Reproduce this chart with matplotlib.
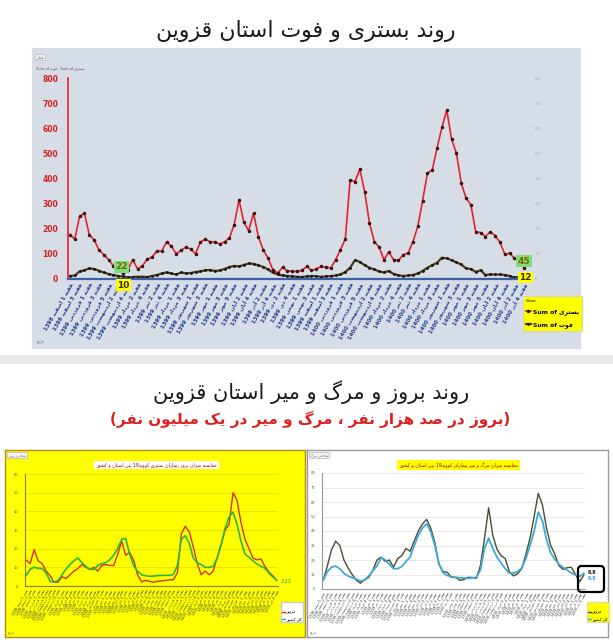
import matplotlib
matplotlib.use('Agg')
import matplotlib.pyplot as plt
from matplotlib.lines import Line2D
from matplotlib.patches import Rectangle, FancyBboxPatch

W, H = 613, 640

# matplotlib has no Arabic shaping / right-to-left layout, so do a small one here
FORMS = {
    'ا': (0xFE8D, 0xFE8E), 'آ': (0xFE81, 0xFE82), 'د': (0xFEA9, 0xFEAA),
    'ذ': (0xFEAB, 0xFEAC), 'ر': (0xFEAD, 0xFEAE), 'ز': (0xFEAF, 0xFEB0),
    'ژ': (0xFB8A, 0xFB8B), 'و': (0xFEED, 0xFEEE),
    'ب': (0xFE8F, 0xFE90, 0xFE91, 0xFE92), 'پ': (0xFB56, 0xFB57, 0xFB58, 0xFB59),
    'ت': (0xFE95, 0xFE96, 0xFE97, 0xFE98), 'ج': (0xFE9D, 0xFE9E, 0xFE9F, 0xFEA0),
    'چ': (0xFB7A, 0xFB7B, 0xFB7C, 0xFB7D), 'ح': (0xFEA1, 0xFEA2, 0xFEA3, 0xFEA4),
    'خ': (0xFEA5, 0xFEA6, 0xFEA7, 0xFEA8), 'س': (0xFEB1, 0xFEB2, 0xFEB3, 0xFEB4),
    'ش': (0xFEB5, 0xFEB6, 0xFEB7, 0xFEB8), 'ص': (0xFEB9, 0xFEBA, 0xFEBB, 0xFEBC),
    'ع': (0xFEC9, 0xFECA, 0xFECB, 0xFECC), 'ف': (0xFED1, 0xFED2, 0xFED3, 0xFED4),
    'ق': (0xFED5, 0xFED6, 0xFED7, 0xFED8), 'ک': (0xFB8E, 0xFB8F, 0xFB90, 0xFB91),
    'ك': (0xFED9, 0xFEDA, 0xFEDB, 0xFEDC), 'گ': (0xFB92, 0xFB93, 0xFB94, 0xFB95),
    'ل': (0xFEDD, 0xFEDE, 0xFEDF, 0xFEE0), 'م': (0xFEE1, 0xFEE2, 0xFEE3, 0xFEE4),
    'ن': (0xFEE5, 0xFEE6, 0xFEE7, 0xFEE8), 'ه': (0xFEE9, 0xFEEA, 0xFEEB, 0xFEEC),
    'ی': (0xFBFC, 0xFBFD, 0xFBFE, 0xFBFF), 'ي': (0xFEF1, 0xFEF2, 0xFEF3, 0xFEF4),
}
MIRROR = str.maketrans('()', ')(')


def fa(s):
    out = []
    for i, ch in enumerate(s):
        f = FORMS.get(ch)
        if f is None:
            out.append(ch)
            continue
        prv = FORMS.get(s[i - 1]) if i > 0 else None
        nxt = FORMS.get(s[i + 1]) if i + 1 < len(s) else None
        jp = prv is not None and len(prv) == 4
        jn = len(f) == 4 and nxt is not None
        if jp and jn:
            out.append(chr(f[3]))
        elif jp:
            out.append(chr(f[1]))
        elif jn:
            out.append(chr(f[2]))
        else:
            out.append(chr(f[0]))
    shaped = ''.join(out)
    runs = []
    for ch in shaped:
        ltr = ch.isascii() and (ch.isalnum() or ch == '.')
        if runs and runs[-1][0] == ltr:
            runs[-1][1] += ch
        else:
            runs.append([ltr, ch])
    return ''.join(r if ltr else r[::-1].translate(MIRROR) for ltr, r in reversed(runs))


def px(x0, y0, x1, y1):
    return [x0 / W, 1 - y1 / H, (x1 - x0) / W, (y1 - y0) / H]


# ---------------- data ----------------
# weekly hospitalised (بستری) and deaths (فوت), Qazvin
hosp = [176, 159, 249, 262, 176, 156, 116, 97, 77, 53,
        37, 22, 37, 77, 40, 53, 79, 87, 112, 110,
        148, 130, 100, 114, 127, 119, 100, 147, 159, 148,
        147, 139, 148, 163, 216, 315, 225, 192, 262, 169,
        116, 83, 37, 24, 46, 33, 30, 30, 34, 50,
        34, 40, 50, 46, 44, 77, 116, 160, 394, 388,
        437, 348, 222, 149, 127, 77, 107, 77, 74, 97,
        103, 149, 209, 312, 421, 434, 522, 603, 672, 556,
        500, 381, 321, 295, 187, 185, 169, 188, 173, 146,
        99, 102, 83, 67, 45]
death = [12, 14, 30, 35, 42, 40, 33, 26, 20, 16,
         12, 10, 6, 8, 9, 9, 8, 12, 16, 22,
         26, 22, 18, 26, 22, 24, 28, 30, 35, 36,
         32, 34, 40, 48, 52, 50, 56, 62, 60, 55,
         48, 38, 26, 18, 14, 12, 10, 9, 8, 10,
         12, 11, 9, 10, 12, 14, 18, 28, 45, 75,
         68, 55, 45, 38, 30, 26, 32, 20, 15, 12,
         14, 16, 22, 32, 45, 55, 65, 85, 82, 75,
         66, 58, 42, 40, 28, 35, 16, 18, 18, 18,
         16, 12, 6, 8, 12]

MONTHS = ['فروردین', 'اردیبهشت', 'خرداد', 'تیر', 'مرداد', 'شهریور',
          'مهر', 'آبان', 'آذر', 'دی', 'بهمن', 'اسفند']
weeks_1399 = [5, 4, 4, 5, 4, 4, 5, 4, 4, 5, 4, 4]
weeks_1400 = [5, 4, 4, 5, 4, 4, 5, 4, 4]
month_weeks = ([('اسفند', 1398, 4)]
               + [(m, 1399, n) for m, n in zip(MONTHS, weeks_1399)]
               + [(m, 1400, n) for m, n in zip(MONTHS, weeks_1400)])
wk_labels = ['هفته %d %s %d' % (w, m, y) for m, y, n in month_weeks for w in range(1, n + 1)]

# incidence per 100k: Qazvin vs country
inc_qazvin = [13.8, 12, 19.5, 13.5, 12, 8, 5.5, 2, 2, 5,
              4, 6, 8, 9.3, 11.5, 10, 8.8, 10, 8, 11,
              11.5, 11, 11, 17, 24, 16.5, 18, 14, 6, 2.2,
              3, 2.5, 2, 2.5, 2.7, 3, 3.3, 3.4, 7, 28,
              32, 29, 21, 12, 6, 8, 6, 8, 15, 22,
              30, 33, 50, 46, 34, 25, 20, 15, 14, 14.5,
              10.5, 7.5, 5.5, 3]
inc_iran = [5.7, 9, 10, 9.5, 9.3, 7, 2.5, 2, 3, 6,
            9, 11.5, 13.5, 15, 12.5, 10.5, 9, 8.8, 11, 12,
            12.5, 14, 16.5, 20, 25, 25.5, 17, 11, 7.8, 6,
            5.5, 5.2, 5.3, 5.6, 5.7, 5.7, 5.7, 6.2, 11, 25,
            27, 22.8, 15, 12.5, 11.5, 10, 10, 10.5, 15, 22,
            31, 37, 39.5, 33, 24, 17, 15.5, 13.5, 11.8, 10.6,
            9.5, 7, 4.8, 3]
# deaths per million: Qazvin vs country
mort_qazvin = [6, 16, 27, 33, 30, 20, 14.5, 10, 6, 4,
               6.5, 8, 13, 20, 22, 19, 20, 15, 21, 23,
               28, 26, 33, 40, 44.8, 48, 42, 32, 17, 12,
               11.5, 8, 8, 6, 6.5, 8, 8, 7.3, 16, 35,
               56, 37, 27.5, 23, 21, 12, 9, 10.5, 14, 24,
               35, 50, 66, 58, 42, 30, 24, 16, 13.5, 14.7,
               15, 10, 5, 9.6]
mort_iran = [6, 12, 15, 15.8, 14, 10.8, 9, 7.8, 6.8, 5.5,
             6, 9, 12.5, 16, 21.5, 20, 17, 14, 14, 15.5,
             19, 22, 30, 37, 42, 45, 39.5, 30, 17, 11,
             9.3, 8.5, 8, 7.8, 7.6, 7.3, 7.6, 8, 13, 28,
             35, 28, 22, 18, 14, 11, 11, 12, 14.5, 21,
             30, 40, 53, 47, 34, 25, 20.5, 17, 15, 13,
             11, 9.8, 8.8, 10.8]
bottom_labels = [wk_labels[round(k * 94 / 63)] for k in range(len(inc_qazvin))]

fig = plt.figure(figsize=(W / 100, H / 100), dpi=100)
fig.patch.set_facecolor('white')

# ---------------- backgrounds ----------------
def panel(rect, fc, ec, lw=0.8):
    a = fig.add_axes(px(*rect))
    a.set_facecolor(fc)
    a.set_xticks([])
    a.set_yticks([])
    for s in a.spines.values():
        s.set_color(ec)
        s.set_linewidth(lw)
    return a

panel((32, 48, 580, 348), '#d7dde6', '#d7dde6')
fig.add_artist(Rectangle((0, 1 - 364 / H), 1, 9 / H, transform=fig.transFigure,
                         fc='#e9e9e9', ec='none'))
panel((5, 450, 305, 637), '#ffff00', '#b58a16', 1.0)
panel((307, 450, 608, 637), 'white', '#9a9a9a', 1.0)

# ---------------- titles ----------------
fig.text(306 / W, 1 - 31 / H, fa('روند بستری و فوت استان قزوین'), ha='center', va='center',
         fontsize=15.8, color='#1a1a1a')
fig.text(311 / W, 1 - 392 / H, fa('روند بروز و مرگ و میر استان قزوین'), ha='center', va='center',
         fontsize=15, color='#1a1a1a')
fig.text(310 / W, 1 - 419 / H, fa('(بروز در صد هزار نفر ، مرگ و میر در یک میلیون نفر)'),
         ha='center', va='center', fontsize=11, color='#de1f1f', fontweight='bold')

# ---------------- top chart ----------------
ax = fig.add_axes(px(68, 78, 526, 279))
ax.set_facecolor('none')
x = list(range(len(hosp)))
ax.plot(x, hosp, color='#e3222b', lw=1.2, marker='o', ms=1.5, mfc='#3a1010', mec='#3a1010', zorder=3)
ax.plot(x, death, color='#4a3c12', lw=1.6, marker='o', ms=1.0, mfc='#111111', mec='#111111', zorder=2)
ax.set_xlim(-0.4, len(hosp) - 0.6)
ax.set_ylim(0, 800)
ax.set_yticks(range(0, 801, 100))
ax.tick_params(axis='y', length=0, labelsize=5.5, labelcolor='#d42020', pad=7)
for t in ax.get_yticklabels():
    t.set_fontweight('bold')
ax.set_xticks(x[::2])
ax.set_xticklabels([fa(l) for l in wk_labels[::2]], rotation=60, ha='right',
                   rotation_mode='anchor', fontsize=3.9, color='#22408e', fontweight='bold')
ax.tick_params(axis='x', length=0, pad=2)
for s in ('top', 'right'):
    ax.spines[s].set_visible(False)
ax.spines['left'].set_color('#e3222b')
ax.spines['left'].set_linewidth(1.2)
ax.spines['bottom'].set_color('#3d5fa6')
ax.spines['bottom'].set_linewidth(1.6)

ax2 = ax.twinx()
ax2.set_ylim(0, 800)
ax2.set_yticks(range(0, 801, 100))
ax2.tick_params(axis='y', length=0, labelsize=2.5, labelcolor='#a4abb5', pad=6)
for s in ax2.spines.values():
    s.set_visible(False)

box = dict(boxstyle='square,pad=0.15', ec='none')
ax.annotate('22', (11, hosp[11]), xytext=(-1, 1.5), textcoords='offset points', ha='center', va='bottom',
            fontsize=6.5, fontweight='bold', color='#7a6000', bbox=dict(box, fc='#78e078'), zorder=5)
ax.annotate('10', (11, death[11]), xytext=(0, -3), textcoords='offset points', ha='center', va='top',
            fontsize=6.5, fontweight='bold', color='#3a3000', bbox=dict(box, fc='#ffff00'), zorder=5)
ax.annotate('45', (94, hosp[-1]), xytext=(0, 1.5), textcoords='offset points', ha='center', va='bottom',
            fontsize=6.5, fontweight='bold', color='#8a5a00', bbox=dict(box, fc='#78e078'), zorder=5)
ax.annotate('12', (94, death[-1]), xytext=(1, -1), textcoords='offset points', ha='center', va='center',
            fontsize=6.5, fontweight='bold', color='#3a3000', bbox=dict(box, fc='#ffff00'), zorder=5)

handles = [Line2D([], [], color='#e3222b', lw=1.2, marker='o', ms=1.5, mfc='#3a1010', mec='#3a1010'),
           Line2D([], [], color='#4a3c12', lw=1.6, marker='o', ms=1.0, mfc='#111', mec='#111')]
leg = fig.legend(handles, ['Sum of ' + fa('بستری'), 'Sum of ' + fa('فوت')], loc='upper left',
                 bbox_to_anchor=(523 / W, 1 - 296 / H), bbox_transform=fig.transFigure,
                 facecolor='#ffff00', edgecolor='#d9d9a0', framealpha=1, fancybox=False,
                 title='Values', title_fontsize=2.3, handlelength=0.9, handletextpad=0.3,
                 labelspacing=1.1, borderpad=0.45, borderaxespad=0,
                 prop={'weight': 'bold', 'size': 4.3})
leg._legend_box.align = 'left'

fig.text(36 / W, 1 - 57 / H, fa('فیلتر'), fontsize=2.8, color='#555', va='center',
         bbox=dict(boxstyle='square,pad=0.3', fc='#eef0f4', ec='#b0b4bc', lw=0.4))
fig.text(36 / W, 1 - 68 / H, 'Sum of ' + fa('فوت') + '   Sum of ' + fa('بستری'), fontsize=2.6,
         color='#555', va='center')
fig.text(37 / W, 1 - 341 / H, fa('تاریخ'), fontsize=2.8, color='#555', va='center')

# ---------------- bottom charts ----------------
def small_chart(rect, ymax, series, colors, widths, title, title_fc, grid_c, spine_c):
    a = fig.add_axes(px(*rect))
    a.set_facecolor('none')
    xs = list(range(len(series[0])))
    for ys, c, lw in zip(series, colors, widths):
        a.plot(xs, ys, color=c, lw=lw, zorder=3)
    a.set_xlim(-0.3, len(xs) - 0.7)
    a.set_ylim(0, ymax)
    a.set_yticks(range(0, ymax + 1, 10))
    a.yaxis.grid(True, color=grid_c, lw=0.5)
    a.set_axisbelow(True)
    a.tick_params(axis='y', length=0, labelsize=2.6, labelcolor='#555', pad=5)
    a.set_xticks(xs)
    a.set_xticklabels([fa(l) for l in bottom_labels], rotation=60, ha='right',
                      rotation_mode='anchor', fontsize=2.5, color='#3a3a3a')
    a.tick_params(axis='x', length=0, pad=2)
    for s in ('top', 'right'):
        a.spines[s].set_visible(False)
    for s in ('left', 'bottom'):
        a.spines[s].set_color(spine_c)
        a.spines[s].set_linewidth(0.8)
    cx = rect[0] + (rect[2] - rect[0]) * 0.52
    fig.text(cx / W, 1 - 465 / H, fa(title), ha='center', va='center', fontsize=3.3,
             color='#b00000', bbox=dict(boxstyle='square,pad=0.4', fc=title_fc, ec='none'))
    return a


def small_legend(handles, x0, fc, ec):
    fig.legend(handles, [fa('قزوین'), fa('کل کشور')], loc='upper left',
               bbox_to_anchor=(x0 / W, 1 - 602 / H), bbox_transform=fig.transFigure,
               fontsize=2.9, facecolor=fc, edgecolor=ec, framealpha=1, fancybox=False,
               handlelength=0.7, handletextpad=0.25, borderpad=0.35, borderaxespad=0,
               labelspacing=0.7, title=' ', title_fontsize=1.8)


axL = small_chart((25, 474, 278, 586), 60, [inc_qazvin, inc_iran], ['#d2340f', '#30b648'], [1.0, 1.2],
                  'مقایسه میزان بروز بیماران بستری کووید19 بین استان و کشور', 'white', '#e6d600', '#8a7a10')
axL.annotate('3.23', (63, inc_iran[-1]), xytext=(3, -1), textcoords='offset points', ha='left',
             va='center', fontsize=3.5, color='#2a9a2a')
fig.text(8 / W, 1 - 455 / H, fa('شاخص بروز'), fontsize=2.5, color='#555', va='center',
         bbox=dict(boxstyle='square,pad=0.3', fc='#f2f2f2', ec='#aaa', lw=0.4))
fig.text(8 / W, 1 - 632 / H, fa('تاریخ'), fontsize=2.5, color='#555', va='center')
small_legend([Line2D([], [], color='#d2340f', lw=1), Line2D([], [], color='#3fa9d8', lw=1)],
             281, 'white', '#cccccc')

axR = small_chart((322, 473, 585, 589), 80, [mort_qazvin, mort_iran], ['#4d4b30', '#3fa9d8'], [1.0, 1.3],
                  'مقایسه میزان مرگ و میر بیماران کووید19 بین استان و کشور', '#ffff00', '#e2e2e2', '#9a9a9a')
axR.annotate('8.8', (63, mort_qazvin[-1]), xytext=(3, 1.5), textcoords='offset points', ha='left',
             va='center', fontsize=3.5, color='#222222', fontweight='bold')
axR.annotate('6.8', (63, mort_iran[-1]), xytext=(3, -3.5), textcoords='offset points', ha='left',
             va='center', fontsize=3.5, color='#3fa9d8', fontweight='bold')
fig.add_artist(FancyBboxPatch((578 / W, 1 - 592 / H), 26 / W, 26 / H,
                              boxstyle='round,pad=0,rounding_size=0.006', transform=fig.transFigure,
                              fill=False, ec='black', lw=1.6))
fig.text(310 / W, 1 - 455 / H, fa('شاخص مرگ'), fontsize=2.5, color='#555', va='center',
         bbox=dict(boxstyle='square,pad=0.3', fc='#f2f2f2', ec='#aaa', lw=0.4))
fig.text(310 / W, 1 - 632 / H, fa('تاریخ'), fontsize=2.5, color='#555', va='center')
small_legend([Line2D([], [], color='#4d4b30', lw=1), Line2D([], [], color='#3fa9d8', lw=1)],
             587, '#ffff00', '#e0e0a0')

fig.savefig('out.png', dpi=100, facecolor='white')
